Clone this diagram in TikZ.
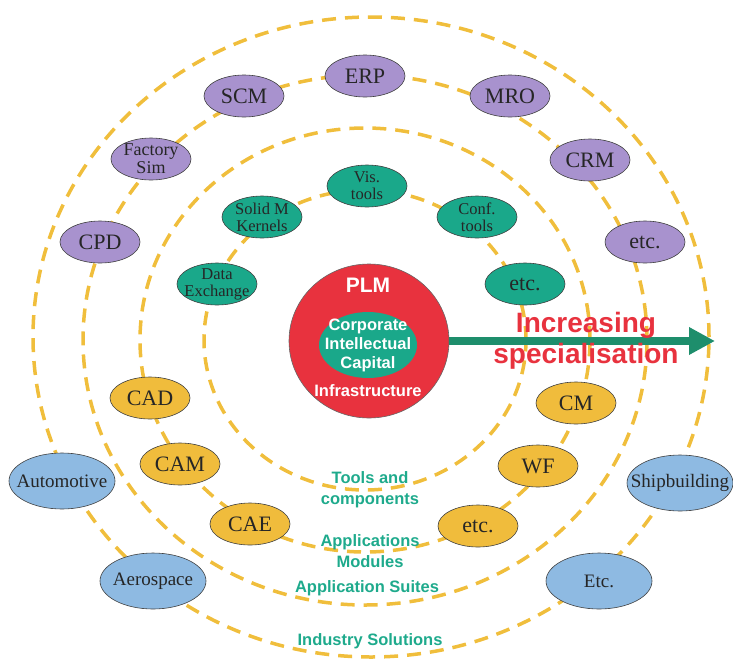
\documentclass[tikz,border=0pt]{standalone}
\usepackage{fontspec}
\setmainfont{Liberation Serif}
\setsansfont{Liberation Sans}
\usetikzlibrary{arrows.meta, shapes.geometric}
\definecolor{ringyellow}{RGB}{240,190,60}
\definecolor{suitepurple}{RGB}{168,146,206}
\definecolor{toolteal}{RGB}{26,168,138}
\definecolor{appyellow}{RGB}{240,188,60}
\definecolor{indblue}{RGB}{142,186,226}
\definecolor{plmred}{RGB}{232,50,62}
\definecolor{levelteal}{RGB}{30,170,140}
\definecolor{arrowgreen}{RGB}{30,142,108}
\tikzset{
    ring/.style={draw=ringyellow, line width=3.5pt, dash pattern=on 14pt off 9pt},
    oval/.style={ellipse, draw=black!75, line width=0.6pt, inner sep=-14pt,
        minimum width=80pt, minimum height=42pt, align=center,
        text=black!85, font=\fontsize{22}{22}\selectfont},
    suite/.style={oval, fill=suitepurple},
    tool/.style={oval, fill=toolteal, font=\fontsize{16.5}{17}\selectfont},
    appl/.style={oval, fill=appyellow},
    industry/.style={oval, fill=indblue, minimum width=106pt, minimum height=56pt,
        font=\fontsize{19}{19}\selectfont},
    level/.style={text=levelteal, align=center,
        font=\sffamily\bfseries\fontsize{16.5}{21}\selectfont},
    core/.style={text=white, align=center,
        font=\sffamily\bfseries\fontsize{16.5}{19}\selectfont},
    spec/.style={draw=arrowgreen, line width=8pt, -{Triangle[length=26pt, width=26pt]}},
}
\begin{document}
\begin{tikzpicture}[x=1pt, y=-1pt]
\useasboundingbox (0,0) rectangle (733,659);
% dashed rings, inside out
\draw[ring] (365,340) ellipse [x radius=161pt, y radius=150pt];
\draw[ring] (365,340) ellipse [x radius=225pt, y radius=212pt];
\draw[ring] (365,340) ellipse [x radius=282pt, y radius=265pt];
\draw[ring] (371,337) ellipse [x radius=338pt, y radius=320pt];

% core
\node[ellipse, fill=plmred, draw=black!60, line width=0.6pt,
      minimum width=160pt, minimum height=154pt] (plm) at (369,341) {};
\node[core, font=\sffamily\bfseries\fontsize{21}{21}\selectfont] (plmtxt) at (368,285) {PLM};
\node[ellipse, fill=toolteal, inner sep=-14pt, minimum width=98pt, minimum height=66pt,
      core] (capital) at (368,345) {Corporate\\Intellectual\\Capital};
\node[core] (infra) at (368,391) {Infrastructure};

% tools and components
\node[tool] (vis) at (367,186) {Vis.\\tools};
\node[tool] (solid) at (262,217) {Solid M\\Kernels};
\node[tool] (conf) at (477,217) {Conf.\\tools};
\node[tool] (dex) at (217,284) {Data\\Exchange};
\node[tool, font=\fontsize{22}{22}\selectfont] (etct) at (525,284) {etc.};

% applications
\node[appl] (cad) at (150,398) {CAD};
\node[appl] (cam) at (180,464) {CAM};
\node[appl] (cae) at (250,524) {CAE};
\node[appl] (cm) at (576,403) {CM};
\node[appl] (wf) at (538,466) {WF};
\node[appl] (etca) at (478,526) {etc.};

% application suites
\node[suite] (erp) at (365,76) {ERP};
\node[suite] (scm) at (244,96) {SCM};
\node[suite] (mro) at (510,96) {MRO};
\node[suite, font=\fontsize{18}{18}\selectfont] (fsim) at (151,159) {Factory\\Sim};
\node[suite] (crm) at (590,160) {CRM};
\node[suite] (cpd) at (100,242) {CPD};
\node[suite] (etcs) at (645,242) {etc.};

% industry solutions
\node[industry] (auto) at (62,481) {Automotive};
\node[industry] (aero) at (153,581) {Aerospace};
\node[industry] (ship) at (680,483) {Shipbuilding};
\node[industry] (etci) at (599,581) {Etc.};

% ring captions
\node[level] (lvtools) at (370,490) {Tools and\\components};
\node[level] (lvapps) at (370,551) {Applications\\Modules};
\node[level] (lvsuites) at (367,588) {Application Suites};
\node[level] (lvind) at (370,641) {Industry Solutions};

% specialisation arrow
\coordinate (tip) at (715,341);
\draw[spec] (plm.east) -- (tip);
\node[text=plmred, align=center, font=\sffamily\bfseries\fontsize{28}{31}\selectfont]
    (spectxt) at (586,341) {Increasing\\specialisation};
\end{tikzpicture}
\end{document}
